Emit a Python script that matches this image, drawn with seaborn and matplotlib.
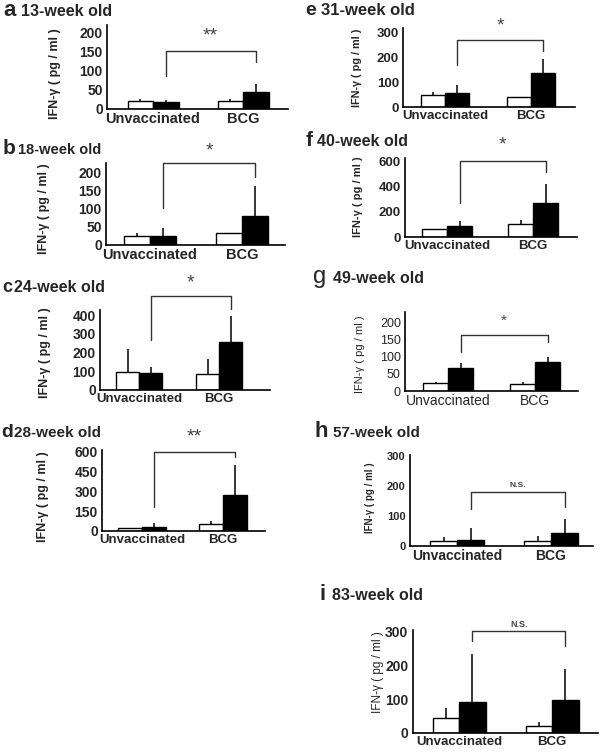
import matplotlib
matplotlib.use("Agg")
import matplotlib.pyplot as plt
import seaborn as sns
import pandas as pd

# ---- data ----
GROUPS = ["Unvaccinated", "BCG"]
STIM = ["Medium", "Antigen"]
PANELS = ["a", "b", "c", "d", "e", "f", "g", "h", "i"]
AGES = {"a": "13-week old", "b": "18-week old", "c": "24-week old",
        "d": "28-week old", "e": "31-week old", "f": "40-week old",
        "g": "49-week old", "h": "57-week old", "i": "83-week old"}

WHITE_MEAN = {"a": [22, 22], "b": [25, 34], "c": [97, 87], "d": [20, 51], "e": [48, 39],
              "f": [62, 102], "g": [22, 20], "h": [17, 17], "i": [44, 22]}
WHITE_ERR = {"a": [4, 3], "b": [9, 0], "c": [123, 77], "d": [3, 25], "e": [14, 0],
             "f": [0, 32], "g": [5, 5], "h": [14, 16], "i": [30, 10]}
BLACK_MEAN = {"a": [18, 45], "b": [25, 80], "c": [92, 258], "d": [33, 273], "e": [58, 136],
              "f": [88, 267], "g": [66, 83], "h": [20, 44], "i": [93, 98]}
BLACK_ERR = {"a": [6, 20], "b": [22, 82], "c": [31, 137], "d": [30, 227], "e": [31, 56],
             "f": [40, 155], "g": [16, 15], "h": [39, 45], "i": [140, 92]}

YTICKS = {"a": [0, 50, 100, 150, 200], "b": [0, 50, 100, 150, 200], "c": [0, 100, 200, 300, 400],
          "d": [0, 150, 300, 450, 600], "e": [0, 100, 200, 300], "f": [0, 200, 400, 600],
          "g": [0, 50, 100, 150, 200], "h": [0, 100, 200, 300], "i": [0, 100, 200, 300]}
YMAX = {"a": 221, "b": 225, "c": 427, "d": 614, "e": 317, "f": 627, "g": 230, "h": 303, "i": 305}

SIG_TEXT = {"a": "**", "b": "*", "c": "*", "d": "**", "e": "*", "f": "*", "g": "*",
            "h": "N.S.", "i": "N.S."}
# bracket: left foot, top, right foot, label height (data units)
BRACKET = {"a": [87, 153, 124, 170], "b": [102, 224, 187, 234], "c": [267, 501, 430, 525],
           "d": [184, 600, 563, 650], "e": [169, 270, 223, 293], "f": [272, 600, 512, 665],
           "g": [114, 163, 143, 183], "h": [122, 179, 131, 203], "i": [273, 303, 258, 322]}

# ---- layout in pixels ----
# axes box (left, top, right, bottom), group centres, bar width
BOX = {"a": (107, 25, 288, 109), "b": (106, 163, 285, 245), "c": (100, 310, 270, 390),
       "d": (102, 450, 265, 531), "e": (403, 28, 575, 107), "f": (405, 158, 577, 237),
       "g": (405, 312, 578, 391), "h": (410, 455, 593, 546), "i": (413, 630, 598, 733)}
CENTRES = {"a": (153, 243, 25.5), "b": (150, 242, 26), "c": (139, 219, 23), "d": (142, 223, 24),
           "e": (445, 531, 24), "f": (447, 533, 25), "g": (448, 535, 25), "h": (457, 551, 27),
           "i": (459, 552, 26.5)}
# title: letter right edge, text x, baseline y, letter size, text size
TITLE = {"a": (16, 21, 16, 16, 11.5), "b": (15, 18, 154, 15, 10.5), "c": (12, 14, 292, 13, 11.5),
         "d": (13, 14, 437, 14, 11), "e": (316, 321, 15, 14, 12), "f": (313, 317, 146, 15, 11.5),
         "g": (326, 333, 283, 17, 11.5), "h": (328, 333, 437, 16, 11), "i": (326, 332, 600, 16, 11.5)}
# y label: x, y, size, weight
YLAB = {"a": (55, 74, 9, "bold"), "b": (44, 209, 9, "bold"), "c": (45, 353, 9, "bold"),
        "d": (43, 497, 9, "bold"), "e": (357, 68, 7.8, "bold"), "f": (358, 197, 8, "bold"),
        "g": (360, 354, 8, "normal"), "h": (370, 498, 7, "bold"), "i": (378, 672, 8.5, "normal")}
# tick font: y size, y weight, x size, x weight, sig size
TICKF = {"a": (10, "bold", 10.5, "bold", 14), "b": (10, "bold", 10.5, "bold", 14),
         "c": (10, "bold", 9.5, "bold", 14), "d": (10, "bold", 9.5, "bold", 14),
         "e": (9.5, "bold", 9.5, "bold", 14), "f": (9.5, "bold", 9.5, "bold", 14),
         "g": (9, "normal", 10, "normal", 11), "h": (8, "bold", 10, "bold", 6),
         "i": (10, "bold", 9.5, "bold", 6.5)}

W, H = 600, 752

sns.set_style("white")
plt.rcParams['font.family'] = ['Liberation Sans', 'DejaVu Sans']

fig = plt.figure(figsize=(W / 100, H / 100), dpi=100)


def draw_panel(k):
    left, top, right, bottom = BOX[k]
    c0, c1, bw = CENTRES[k]
    sp = c1 - c0
    ax = fig.add_axes([left / W, 1 - bottom / H, (right - left) / W, (bottom - top) / H])

    df = pd.DataFrame({"group": GROUPS * 2,
                       "stim": [STIM[0]] * 2 + [STIM[1]] * 2,
                       "value": WHITE_MEAN[k] + BLACK_MEAN[k]})
    sns.barplot(data=df, x="group", y="value", hue="stim", order=GROUPS, hue_order=STIM,
                palette=["white", "black"], edgecolor="black", linewidth=1,
                width=2 * bw / sp, errorbar=None, legend=False, ax=ax)

    bars = sorted(ax.patches, key=lambda p: p.get_x())
    errs = [WHITE_ERR[k][0], BLACK_ERR[k][0], WHITE_ERR[k][1], BLACK_ERR[k][1]]
    xs = [p.get_x() + p.get_width() / 2 for p in bars]
    for x, p, e in zip(xs, bars, errs):
        if e > 0:
            ax.vlines(x, p.get_height(), p.get_height() + e, color="black", lw=1.1, zorder=3)

    # significance bracket
    lb, bt, rb, ty = BRACKET[k]
    x0, x1 = xs[1], xs[3]
    ax.plot([x0, x0, x1, x1], [lb, bt, bt, rb], color="#333333", lw=1, clip_on=False)
    ysz, ywt, xsz, xwt, ssz = TICKF[k]
    is_ns = "N" in SIG_TEXT[k]
    ax.text((x0 + x1) / 2, ty, SIG_TEXT[k], ha="center", va="center" if is_ns else "bottom",
            fontsize=ssz, color="#444444", fontweight="bold" if is_ns else "normal",
            clip_on=False)

    ax.set_xlim(-(c0 - left) / sp, 1 + (right - c1) / sp)
    ax.set_ylim(0, YMAX[k])
    ax.set_yticks(YTICKS[k])
    ax.set_xlabel("")
    ax.set_ylabel("")
    sns.despine(ax=ax)
    for s in ["left", "bottom"]:
        ax.spines[s].set_color("black")
        ax.spines[s].set_linewidth(1.2)
    if k == "i":
        ax.tick_params(axis="y", length=3, pad=0.5, width=1)
    else:
        ax.tick_params(axis="y", length=0, pad=3)
    ax.tick_params(axis="x", length=0, pad=2)
    for t in ax.get_yticklabels():
        t.set_fontsize(ysz)
        t.set_fontweight(ywt)
    for t in ax.get_xticklabels():
        t.set_fontsize(xsz)
        t.set_fontweight(xwt)

    # panel title
    lx, tx, by, lsz, tsz = TITLE[k]
    fig.text(lx / W, 1 - by / H, k, fontsize=lsz, fontweight="bold" if k != "g" else "normal",
             va="baseline", ha="right")
    fig.text(tx / W, 1 - by / H, AGES[k], fontsize=tsz, fontweight="bold",
             va="baseline", ha="left")

    yx, yy, ysz2, ywt2 = YLAB[k]
    fig.text(yx / W, 1 - yy / H, "IFN-γ ( pg / ml )", rotation=90, ha="center", va="center",
             fontsize=ysz2, fontweight=ywt2)


for k in PANELS:
    draw_panel(k)

fig.savefig("out.png", dpi=100)
